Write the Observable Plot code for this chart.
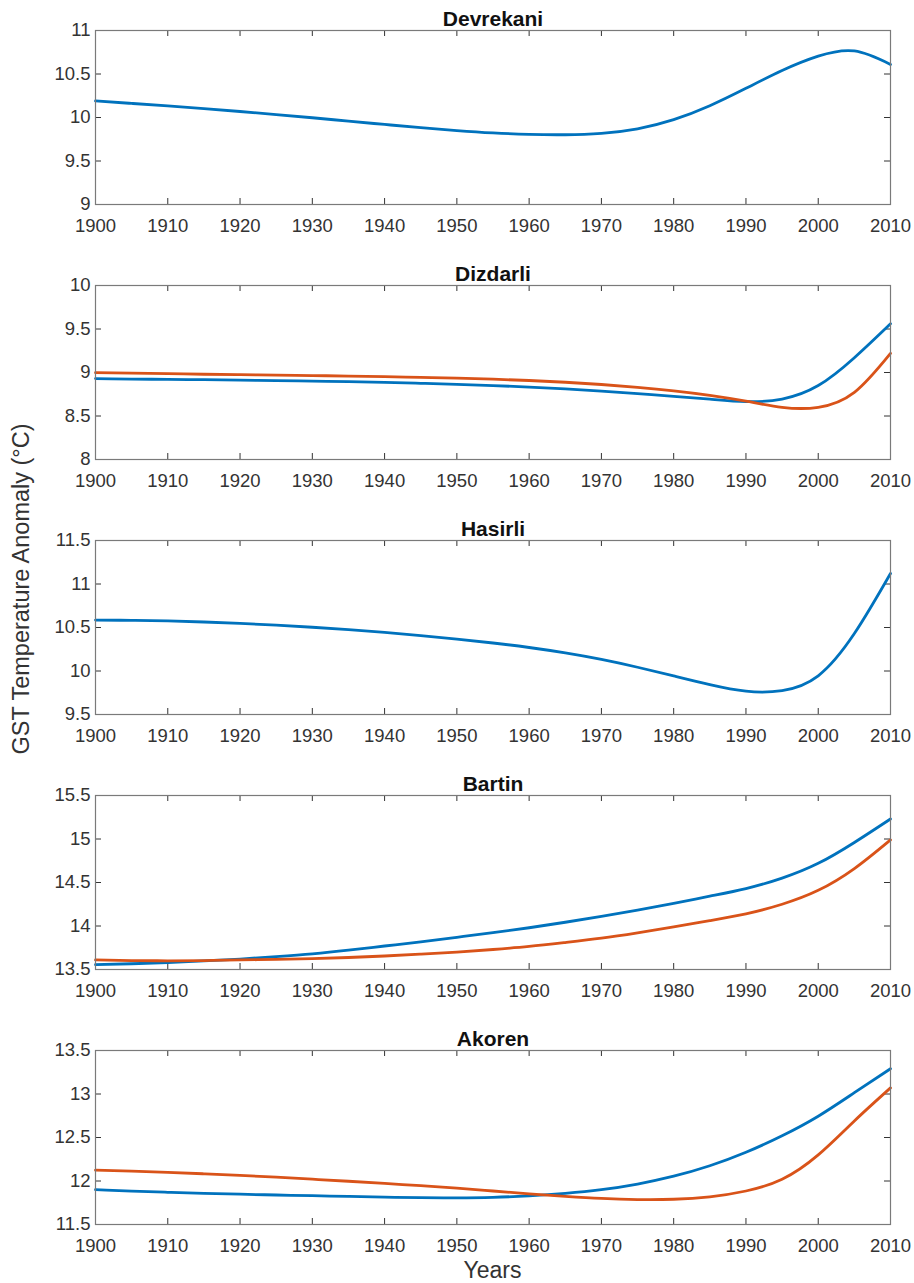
<!DOCTYPE html>
<html><head><meta charset="utf-8">
<script src="https://cdn.jsdelivr.net/npm/d3@7"></script>
<script src="https://cdn.jsdelivr.net/npm/@observablehq/plot@0.6"></script>
<style>
body{margin:0;background:#fff}
#chart{position:relative;width:914px;height:1283px;font-family:"Liberation Sans",Arial,Helvetica,sans-serif;background:#fff}
.panel{position:absolute;left:0}
#ylab{position:absolute;left:22px;top:589px;transform:translate(-50%,-50%) rotate(-90deg);white-space:nowrap;font-size:23.5px;color:#333;line-height:1}
#xlab{position:absolute;left:492.5px;top:1259px;transform:translateX(-50%);font-size:23px;color:#333;line-height:1}
</style>
</head><body>
<div id="chart"></div>
<script>
// ---- data ----
const years = [1900,1905,1910,1915,1920,1925,1930,1935,1940,1945,1950,1955,1960,1965,1970,1975,1980,1985,1990,1995,2000,2005,2010];
const xTicks = [1900,1910,1920,1930,1940,1950,1960,1970,1980,1990,2000,2010];
const stations = ["Devrekani","Dizdarli","Hasirli","Bartin","Akoren"];

const devrekaniBlue = [10.190,10.162,10.133,10.102,10.069,10.034,9.997,9.958,9.920,9.883,9.850,9.823,9.806,9.802,9.818,9.870,9.975,10.135,10.335,10.540,10.705,10.765,10.610];

const dizdarliBlue   = [8.930,8.925,8.921,8.917,8.912,8.907,8.901,8.894,8.886,8.876,8.864,8.850,8.833,8.812,8.787,8.757,8.725,8.693,8.665,8.695,8.850,9.170,9.560];
const dizdarliOrange = [8.998,8.992,8.986,8.980,8.975,8.970,8.965,8.959,8.952,8.944,8.935,8.923,8.908,8.888,8.862,8.830,8.790,8.738,8.671,8.600,8.600,8.772,9.220];

const hasirliBlue = [10.585,10.582,10.575,10.563,10.547,10.527,10.503,10.475,10.443,10.407,10.367,10.322,10.270,10.208,10.133,10.043,9.943,9.843,9.768,9.775,9.945,10.430,11.120];

const bartinBlue   = [13.555,13.566,13.580,13.598,13.620,13.648,13.680,13.722,13.770,13.818,13.870,13.923,13.980,14.043,14.110,14.183,14.260,14.343,14.430,14.550,14.720,14.960,15.230];
const bartinOrange = [13.610,13.603,13.600,13.603,13.610,13.616,13.625,13.638,13.655,13.676,13.700,13.730,13.765,13.810,13.860,13.922,13.990,14.062,14.140,14.250,14.410,14.660,14.990];

const akorenBlue   = [11.900,11.884,11.870,11.858,11.848,11.839,11.831,11.823,11.815,11.808,11.806,11.812,11.830,11.858,11.900,11.965,12.055,12.175,12.330,12.520,12.745,13.015,13.290];
const akorenOrange = [12.125,12.113,12.099,12.083,12.065,12.044,12.021,11.997,11.972,11.946,11.919,11.885,11.852,11.824,11.800,11.787,11.790,11.818,11.885,12.020,12.300,12.690,13.070];

const yDomains = [[9,11],[8,10],[9.5,11.5],[13.5,15.5],[11.5,13.5]];
const yTicks = [
  [9,9.5,10,10.5,11],
  [8,8.5,9,9.5,10],
  [9.5,10,10.5,11,11.5],
  [13.5,14,14.5,15,15.5],
  [11.5,12,12.5,13,13.5]
];
const blueSeries = [devrekaniBlue, dizdarliBlue, hasirliBlue, bartinBlue, akorenBlue];
const orangeSeries = [null, dizdarliOrange, null, bartinOrange, akorenOrange];

// ---- layout ----
const W = 914, H = 255, mL = 95, mR = 24, mT = 30, mB = 51;
const plotW = W - mL - mR, plotH = H - mT - mB;
const BLUE = "#0072BD", ORANGE = "#D95319";
const chart = document.getElementById("chart");

stations.forEach((name, i) => {
  const toRows = arr => arr ? years.map((yr, j) => ({year: yr, value: arr[j]})) : [];
  const blueRows = toRows(blueSeries[i]);
  const orangeRows = toRows(orangeSeries[i]);
  const marks = [
    Plot.tickX(xTicks, {x: d => d, insetTop: plotH - 6, stroke: "#333", strokeWidth: 1}),
    Plot.tickX(xTicks, {x: d => d, insetBottom: plotH - 6, stroke: "#333", strokeWidth: 1}),
    Plot.tickY(yTicks[i], {y: d => d, insetRight: plotW - 6, stroke: "#333", strokeWidth: 1}),
    Plot.tickY(yTicks[i], {y: d => d, insetLeft: plotW - 6, stroke: "#333", strokeWidth: 1}),
    Plot.axisX(xTicks, {tickSize: 0, tickPadding: 14, tickFormat: d => String(d), label: null, fontSize: 18.5, fill: "#333"}),
    Plot.axisY(yTicks[i], {tickSize: 0, tickPadding: 5, tickFormat: d => String(d), label: null, fontSize: 18.5, fill: "#333"}),
    Plot.line(blueRows, {x: "year", y: "value", stroke: BLUE, strokeWidth: 2.8, curve: "natural"})
  ];
  if (orangeRows.length) {
    marks.push(Plot.line(orangeRows, {x: "year", y: "value", stroke: ORANGE, strokeWidth: 2.8, curve: "natural"}));
  }
  marks.push(Plot.frame({stroke: "#7a7a7a", strokeWidth: 1.2}));
  marks.push(Plot.text([name], {frameAnchor: "top", dy: -5, lineAnchor: "bottom", fontWeight: "bold", fontSize: 21, fill: "#111"}));

  const svg = Plot.plot({
    width: W, height: H,
    marginLeft: mL, marginRight: mR, marginTop: mT, marginBottom: mB,
    style: {fontFamily: "'Liberation Sans', Arial, Helvetica, sans-serif", fontSize: "18.5px", background: "transparent", overflow: "visible"},
    x: {domain: [1900, 2010]},
    y: {domain: yDomains[i]},
    marks
  });
  svg.classList.add("panel");
  svg.style.top = (i * H) + "px";
  svg.style.position = "absolute";
  chart.appendChild(svg);
});

const yl = document.createElement("div");
yl.id = "ylab"; yl.textContent = "GST Temperature Anomaly (°C)";
chart.appendChild(yl);
const xl = document.createElement("div");
xl.id = "xlab"; xl.textContent = "Years";
chart.appendChild(xl);
</script>
</body></html>
